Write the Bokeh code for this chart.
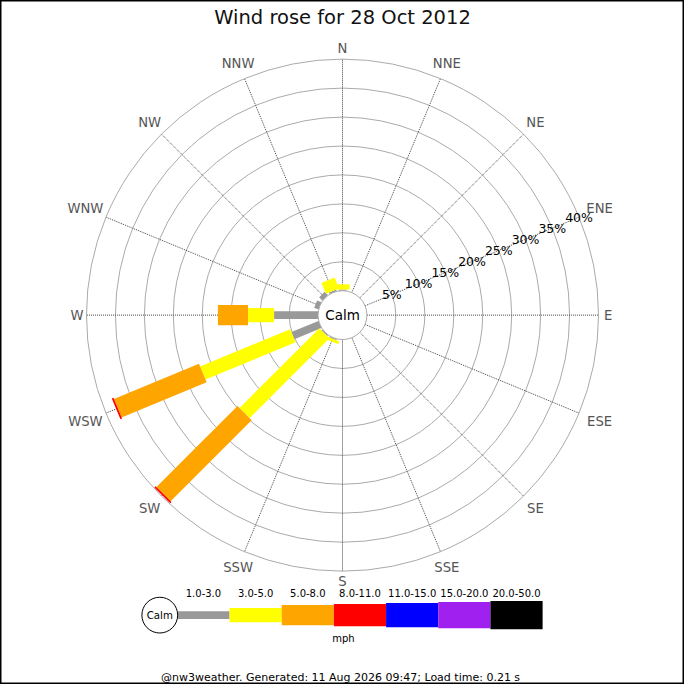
import math
from bokeh.plotting import figure
from bokeh.models import Range1d, ColumnDataSource
from bokeh.core.properties import value
from bokeh.embed import file_html
from bokeh.resources import INLINE

# wind direction sectors (compass points, clockwise from N)
directions = ["N", "NNE", "NE", "ENE", "E", "ESE", "SE", "SSE",
              "S", "SSW", "SW", "WSW", "W", "WNW", "NW", "NNW"]
bearings = [22.5 * i for i in range(16)]

# speed bands (mph) and share of the day (%) per direction
speed_bands = ["1.0-3.0", "3.0-5.0", "5.0-8.0", "8.0-11.0",
               "11.0-15.0", "15.0-20.0", "20.0-50.0"]
pct_1_3 = [0.2, 0, 0, 0, 0, 0, 0, 0, 0, 0.2, 0.2, 5.05, 7.6, 0.8, 0.8, 0.3]
pct_3_5 = [0.9, 0, 0, 0, 0, 0, 0, 0, 0, 0.5, 19.5, 16.85, 4.5, 0, 0, 2.0]
pct_5_8 = [0, 0, 0, 0, 0, 0, 0, 0, 0, 0, 19.8, 15.9, 5.2, 0, 0, 0]
pct_8_11 = [0, 0, 0, 0, 0, 0, 0, 0, 0, 0, 0.3, 0.3, 0, 0, 0, 0]
pct_11_15 = [0] * 16
pct_15_20 = [0] * 16
pct_20_50 = [0] * 16
band_values = [pct_1_3, pct_3_5, pct_5_8, pct_8_11, pct_11_15, pct_15_20, pct_20_50]

ring_ticks = [5, 10, 15, 20, 25, 30, 35, 40]

title_text = "Wind rose for 28 Oct 2012"
footer_text = "@nw3weather. Generated: 11 Aug 2026 09:47; Load time: 0.21 s"

# styling
band_colors = ["#999999", "#ffff00", "#ffa500", "#ff0000", "#0000ff", "#a020f0", "#000000"]
band_thick = [8, 14.5, 20.5, 23, 25, 27, 29]
FONT = value("DejaVu Sans")
CALM_R = 25.0
PX_PER_PCT = 5.925


def rad(pct):
    return CALM_R + PX_PER_PCT * pct


def polar(r, bearing):
    t = math.radians(bearing)
    return r * math.sin(t), r * math.cos(t)


p = figure(width=684, height=684, output_backend="svg", toolbar_location=None,
           x_range=Range1d(-350, 350), y_range=Range1d(-378, 322), min_border=0)
p.axis.visible = False
p.grid.visible = False
p.outline_line_color = "black"
p.outline_line_width = 2
p.background_fill_color = "white"
p.border_fill_color = "white"

# rings
outer = rad(ring_ticks[-1])
p.circle(x=[0] * len(ring_ticks), y=[0] * len(ring_ticks),
         radius=[rad(t) for t in ring_ticks],
         fill_color=None, line_color="#aaaaaa", line_width=1)

# spokes
sx0, sy0, sx1, sy1 = [], [], [], []
for b in bearings:
    x0, y0 = polar(CALM_R, b)
    x1, y1 = polar(outer, b)
    sx0.append(x0); sy0.append(y0); sx1.append(x1); sy1.append(y1)
p.segment(sx0, sy0, sx1, sy1, line_color="#444444", line_width=1, line_dash="1 1")

# bars, stacked outward
cum = [0.0] * 16
for vals, col, th in zip(band_values, band_colors, band_thick):
    xs, ys, ls, angs = [], [], [], []
    for i, b in enumerate(bearings):
        v = vals[i]
        if v <= 0:
            continue
        r0 = rad(cum[i])
        r1 = rad(cum[i] + v)
        cx, cy = polar((r0 + r1) / 2, b)
        xs.append(cx); ys.append(cy); ls.append(r1 - r0)
        angs.append(math.pi / 2 - math.radians(b))
        cum[i] += v
    if xs:
        src = ColumnDataSource(dict(x=xs, y=ys, w=ls, a=angs))
        p.rect(x="x", y="y", width="w", height=th, angle="a", source=src,
               fill_color=col, line_color=None)

# calm circle
p.circle(x=[0], y=[0], radius=CALM_R, fill_color="white", line_color="#aaaaaa", line_width=1)
p.text(x=[0], y=[0], text=["Calm"], text_align="center", text_baseline="middle",
       text_font=FONT, text_font_size="13.5px", text_color="black")

# ring labels along ENE
lx, ly = [], []
for t in ring_ticks:
    x, y = polar(rad(t), 67.5)
    lx.append(x); ly.append(y)
p.text(x=lx, y=ly, text=["%d%%" % t for t in ring_ticks], text_align="center",
       text_baseline="middle", text_font=FONT, text_font_size="12.5px", text_color="black")

# direction labels
dx, dy = [], []
for d, b in zip(directions, bearings):
    t = math.radians(b)
    w = 5.8 * len(d)
    r = outer + 4 + w * abs(math.sin(t)) + 7 * abs(math.cos(t))
    x, y = polar(r, b)
    dx.append(x); dy.append(y)
p.text(x=dx, y=dy, text=directions, text_align="center", text_baseline="middle",
       text_font=FONT, text_font_size="13.2px", text_color="#555555")

# title
p.text(x=[0], y=[305], text=[title_text], text_align="center", text_baseline="middle",
       text_font=FONT, text_font_size="19.5px", text_color="#111111")

# legend
leg_y = -307
seg_w = 53.4
seg_x0 = 181 - 350
lgx = [seg_x0 + seg_w * (i + 0.5) for i in range(len(speed_bands))]
p.rect(x=lgx, y=[leg_y] * len(lgx), width=seg_w, height=band_thick,
       fill_color=band_colors, line_color=None)
p.circle(x=[-187], y=[leg_y], radius=18.3, fill_color="white", line_color="black", line_width=1)
p.text(x=[-187], y=[leg_y], text=["Calm"], text_align="center", text_baseline="middle",
       text_font=FONT, text_font_size="10.2px", text_color="black")
p.text(x=lgx, y=[-284.7] * len(lgx), text=speed_bands, text_align="center",
       text_baseline="middle", text_font=FONT, text_font_size="10px", text_color="black")
p.text(x=[1], y=[-331], text=["mph"], text_align="center", text_baseline="middle",
       text_font=FONT, text_font_size="10px", text_color="black")

# footer
p.text(x=[-2], y=[-371], text=[footer_text], text_align="center", text_baseline="middle",
       text_font=FONT, text_font_size="11px", text_color="black")

open("out.html", "w").write(file_html(p, INLINE))
